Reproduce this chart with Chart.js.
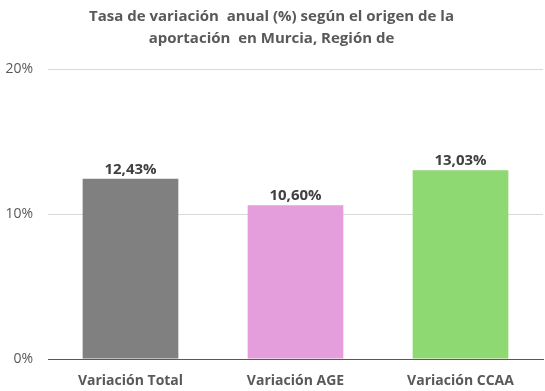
<!DOCTYPE html>
<html>
<head>
<meta charset="utf-8">
<script src="https://cdn.jsdelivr.net/npm/chart.js@4"></script>
<style>
  html, body { margin: 0; padding: 0; background: #fff; }
  #wrap { width: 545px; height: 391px; }
</style>
</head>
<body>
<div id="wrap"><canvas id="variacionChart"></canvas></div>
<script>
// Datos
const categorias = ['Variación Total', 'Variación AGE', 'Variación CCAA'];
const valores = [12.43, 10.60, 13.03];
const colores = ['#808080', '#E49EDC', '#8FD973'];
const tituloLineas = ['Tasa de variación  anual (%) según el origen de la', 'aportación  en Murcia, Región de'];

const FUENTE = "'Open Sans', Lato, sans-serif";

// Etiquetas de valor encima de cada barra
const etiquetasBarras = {
  id: 'etiquetasBarras',
  afterDatasetsDraw(chart) {
    const ctx = chart.ctx;
    const meta = chart.getDatasetMeta(0);
    ctx.save();
    ctx.font = 'bold 15px ' + FUENTE;
    ctx.fillStyle = '#404040';
    ctx.textAlign = 'center';
    ctx.textBaseline = 'bottom';
    meta.data.forEach((bar, i) => {
      const txt = valores[i].toFixed(2).replace('.', ',') + '%';
      ctx.fillText(txt, bar.x, bar.y - 2);
    });
    ctx.restore();
  }
};

function crearGrafico() {
  const ctx = document.getElementById('variacionChart').getContext('2d');
  return new Chart(ctx, {
    type: 'bar',
    data: {
      labels: categorias,
      datasets: [{
        data: valores,
        backgroundColor: colores,
        barPercentage: 0.58,
        categoryPercentage: 1.0
      }]
    },
    options: {
      responsive: true,
      maintainAspectRatio: false,
      animation: false,
      layout: { padding: { left: 0, right: 2, top: 0, bottom: 0 } },
      scales: {
        x: {
          grid: { display: false, drawTicks: false },
          border: { display: true, color: '#595959', width: 1 },
          ticks: {
            padding: 14,
            color: '#595959',
            font: { family: FUENTE, size: 14, weight: 'bold' }
          },
          afterFit(scale) { scale.height = 32; }
        },
        y: {
          min: 0,
          max: 20,
          grid: { color: '#D9D9D9', drawTicks: false },
          border: { display: false },
          ticks: {
            stepSize: 10,
            padding: 15,
            color: '#595959',
            font: { family: FUENTE, size: 14 },
            callback: v => v + '%'
          },
          afterFit(scale) { scale.width = 48; }
        }
      },
      plugins: {
        legend: { display: false },
        tooltip: { enabled: false },
        title: {
          display: true,
          text: tituloLineas,
          color: '#595959',
          font: { family: FUENTE, size: 15, weight: 'bold', lineHeight: 1.47 },
          padding: { top: 6, bottom: 19 }
        }
      }
    },
    plugins: [etiquetasBarras]
  });
}

document.addEventListener('DOMContentLoaded', () => {
  crearGrafico();
});
</script>
</body>
</html>
